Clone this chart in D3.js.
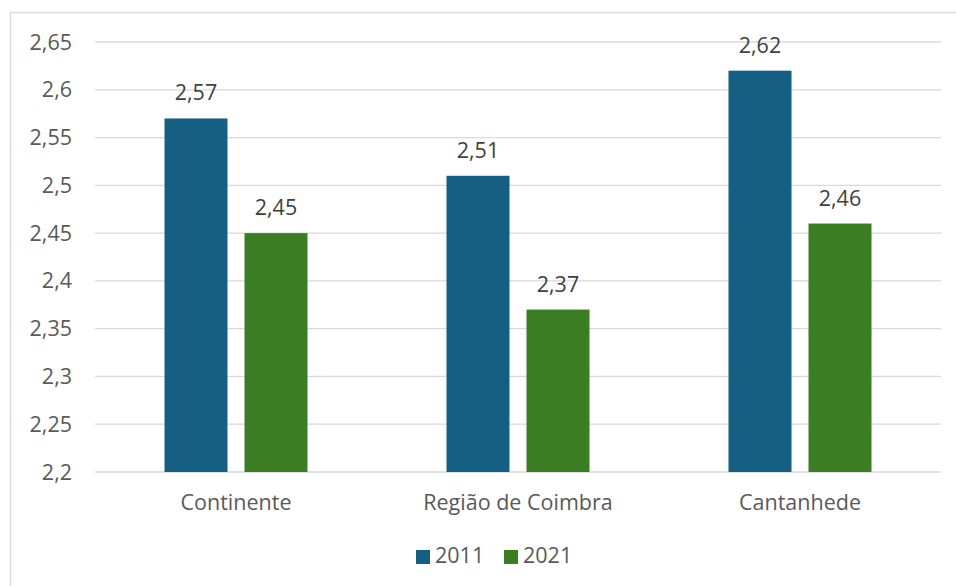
<!DOCTYPE html>
<html><head><meta charset="utf-8">
<script src="https://cdn.jsdelivr.net/npm/d3@7"></script>
<style>body{margin:0;background:#fff}svg{display:block}text{font-family:"Open Sans",sans-serif}</style>
</head><body><svg id="c" width="956" height="586"></svg>
<script>
const categories = ["Continente", "Região de Coimbra", "Cantanhede"];
const seriesNames = ["2011", "2021"];
const values2011 = [2.57, 2.51, 2.62];
const values2021 = [2.45, 2.37, 2.46];
const yTicks = [2.2, 2.25, 2.3, 2.35, 2.4, 2.45, 2.5, 2.55, 2.6, 2.65];
const colors = ["#156082", "#3B7D23"];

const svg = d3.select("#c");
const fmt = v => String(+v.toFixed(2)).replace(".", ",");
const m = {l: 95, r: 941, t: 42, b: 472};

svg.append("rect").attr("x", 10.5).attr("y", 12.5).attr("width", 1000).attr("height", 1000)
  .attr("fill", "none").attr("stroke", "#d9d9d9").attr("stroke-width", 1.5);

const x = d3.scaleBand().domain(categories).range([m.l, m.r]).paddingInner(0).paddingOuter(0);
const y = d3.scaleLinear().domain([2.2, 2.65]).range([m.b, m.t]);
const barW = 63, gap = 17;
const groupW = 2 * barW + gap;
const xs = d3.scaleBand().domain(seriesNames).range([0, groupW]).paddingInner(gap / (barW + gap)).paddingOuter(0);

// grid
svg.append("g").selectAll("line").data(yTicks).join("line")
  .attr("x1", m.l).attr("x2", m.r).attr("y1", d => y(d)).attr("y2", d => y(d))
  .attr("stroke", "#d9d9d9").attr("stroke-width", 1.3);

// y tick labels
svg.append("g").selectAll("text").data(yTicks).join("text")
  .attr("x", 72).attr("y", d => y(d) + 7.5).attr("text-anchor", "end")
  .attr("font-size", 21.5).attr("fill", "#595959").text(fmt);

const series = [values2011, values2021];
series.forEach((vals, si) => {
  const g = svg.append("g");
  const bx = i => x(categories[i]) + x.bandwidth() / 2 - groupW / 2 + xs(seriesNames[si]);
  g.selectAll("rect").data(vals).join("rect")
    .attr("x", (d, i) => bx(i))
    .attr("width", xs.bandwidth())
    .attr("y", d => y(d)).attr("height", d => y(2.2) - y(d))
    .attr("fill", colors[si]);
  g.selectAll("text").data(vals).join("text")
    .attr("x", (d, i) => bx(i) + xs.bandwidth() / 2)
    .attr("y", d => y(d) - 18).attr("text-anchor", "middle")
    .attr("font-size", 21.5).attr("fill", "#404040").text(fmt);
});

// category labels
svg.append("g").selectAll("text").data(categories).join("text")
  .attr("x", d => x(d) + x.bandwidth() / 2).attr("y", 510).attr("text-anchor", "middle")
  .attr("font-size", 21.5).attr("fill", "#595959").text(d => d);

// legend
const legX = [416, 504];
const lg = svg.append("g");
seriesNames.forEach((s, i) => {
  lg.append("rect").attr("x", legX[i]).attr("y", 550).attr("width", 14).attr("height", 14).attr("fill", colors[i]);
  lg.append("text").attr("x", legX[i] + 19).attr("y", 563).attr("font-size", 21.5).attr("fill", "#595959").text(s);
});
</script></body></html>
